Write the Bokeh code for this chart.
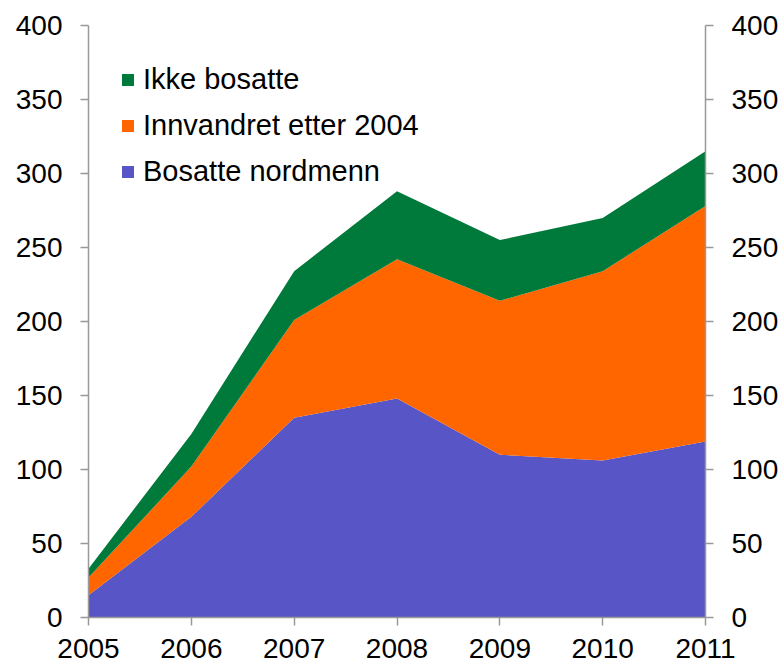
from bokeh.plotting import figure
from bokeh.models import LinearAxis, FixedTicker, Legend, LegendItem, Range1d
from bokeh.embed import file_html
from bokeh.resources import INLINE
from bokeh.models import ColumnDataSource

years = [2005, 2006, 2007, 2008, 2009, 2010, 2011]
bosatte_nordmenn = [15, 68, 135, 148, 110, 106, 119]
innvandret_etter_2004 = [12, 34, 66, 94, 104, 128, 159]
ikke_bosatte = [6, 22, 33, 46, 41, 36, 37]
series_names = ["Bosatte nordmenn", "Innvandret etter 2004", "Ikke bosatte"]
colors = ["#5855C6", "#FF6600", "#007A3A"]
y_ticks = [0, 50, 100, 150, 200, 250, 300, 350, 400]

src = ColumnDataSource(dict(year=years, a=bosatte_nordmenn, b=innvandret_etter_2004, c=ikke_bosatte))

FONT = "Liberation Sans"
p = figure(frame_width=617, frame_height=592, output_backend="svg", toolbar_location=None,
           x_range=Range1d(2005, 2011), y_range=Range1d(0, 400),
           min_border_left=88, min_border_right=77, min_border_top=25, min_border_bottom=47,
           background_fill_color="white", border_fill_color="white")
p.outline_line_color = None
p.xgrid.visible = False
p.ygrid.visible = False

renderers = p.varea_stack(stackers=["a", "b", "c"], x="year", color=colors, source=src)

def style(ax, standoff):
    ax.axis_line_color = "#999999"
    ax.axis_line_width = 1.5
    ax.major_tick_line_color = "#999999"
    ax.major_tick_line_width = 1.5
    ax.major_tick_in = 0
    ax.major_tick_out = 8
    ax.minor_tick_line_color = None
    ax.major_label_text_font = FONT
    ax.major_label_text_font_size = "28px"
    ax.major_label_text_color = "black"
    ax.major_label_standoff = standoff

p.xaxis.ticker = FixedTicker(ticks=years)
p.yaxis.ticker = FixedTicker(ticks=y_ticks)
style(p.xaxis[0], 13)
style(p.yaxis[0], 18)
ry = LinearAxis(ticker=FixedTicker(ticks=y_ticks))
style(ry, 18)
p.add_layout(ry, "right")

items = [LegendItem(label=series_names[i], renderers=[renderers[i]]) for i in [2, 1, 0]]
legend = Legend(items=items, location=(32, 429), margin=0, padding=0,
                background_fill_alpha=0, border_line_color=None,
                glyph_width=15, glyph_height=15, label_height=34, spacing=12,
                label_standoff=8, label_text_font=FONT, label_text_font_size="29px",
                label_text_color="black")
p.add_layout(legend, "center")

open("out.html", "w").write(file_html(p, INLINE))
